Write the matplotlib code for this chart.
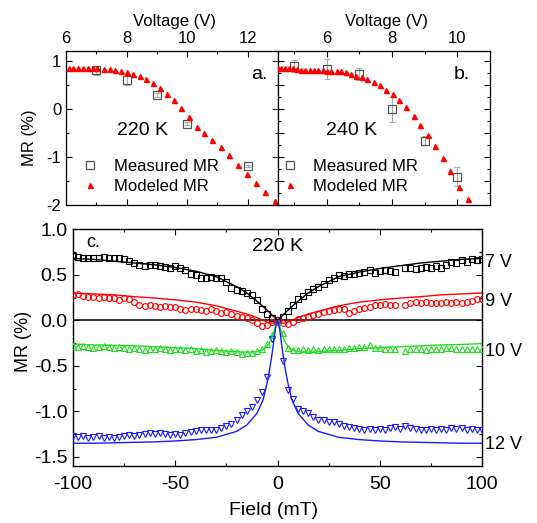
import numpy as np
import matplotlib
matplotlib.use("Agg")
import matplotlib.pyplot as plt
from matplotlib.ticker import MultipleLocator

plt.rcParams['font.family'] = ['Liberation Sans', 'DejaVu Sans']
plt.rcParams['axes.unicode_minus'] = False

# ---------------- Panel a (220 K) ----------------
volt_meas_a = [7, 8, 9, 10, 12]
mr_meas_a = [0.80, 0.60, 0.28, -0.31, -1.19]
err_meas_a = [0.09, 0.11, 0.04, 0.03, 0.03]

volt_model_a = [6.10, 6.24, 6.40, 6.56, 6.73, 6.88, 7.03, 7.26, 7.45, 7.63, 7.81,
                8.00, 8.22, 8.44, 8.65, 8.87, 9.09, 9.32, 9.56, 9.80, 10.05,
                10.31, 10.56, 10.82, 11.11, 11.38, 11.67, 11.96, 12.26, 12.58, 12.89]
mr_model_a = [0.85, 0.85, 0.85, 0.85, 0.85, 0.85, 0.84, 0.83, 0.82, 0.80, 0.79,
              0.77, 0.73, 0.69, 0.61, 0.53, 0.44, 0.30, 0.18, 0.02, -0.17,
              -0.37, -0.50, -0.65, -0.80, -0.97, -1.16, -1.35, -1.55, -1.74, -1.92]

# ---------------- Panel b (240 K) ----------------
volt_meas_b = [5, 6, 7, 8, 9, 10]
mr_meas_b = [0.89, 0.82, 0.72, -0.01, -0.66, -1.41]
err_meas_b = [0.13, 0.21, 0.12, 0.26, 0.09, 0.20]

volt_model_b = [4.52, 4.62, 4.73, 4.85, 4.96, 5.09, 5.22, 5.35, 5.49, 5.62, 5.75,
                5.89, 6.02, 6.15, 6.31, 6.44, 6.59, 6.74, 6.89, 7.07, 7.25, 7.44,
                7.62, 7.83, 8.03, 8.23, 8.44, 8.66, 8.87, 9.10, 9.32, 9.57, 9.79,
                10.06, 10.33]
mr_model_b = [0.85, 0.85, 0.85, 0.85, 0.85, 0.82, 0.81, 0.81, 0.81, 0.81, 0.81,
              0.81, 0.79, 0.79, 0.78, 0.78, 0.76, 0.72, 0.69, 0.66, 0.61, 0.56,
              0.49, 0.40, 0.30, 0.18, 0.03, -0.15, -0.34, -0.55, -0.78, -1.03,
              -1.29, -1.63, -1.88]

# ---------------- Panel c (220 K field sweeps) ----------------
field = np.linspace(-100, 100, 81)
nan = np.nan
mr_7V = [0.71, 0.70, 0.69, 0.68, 0.69, 0.68, 0.70, 0.69, 0.68, 0.68, 0.67, 0.65,
         0.63, 0.61, 0.60, 0.61, 0.61, 0.60, 0.59, 0.58, 0.60, 0.57, 0.55, 0.51,
         0.50, 0.47, 0.47, 0.48, 0.46, 0.46, 0.42, 0.36, 0.33, 0.32, 0.30, 0.28,
         0.22, 0.12, 0.07, 0.03, 0.00,
         0.04, 0.10, 0.17, 0.23, 0.27, 0.31, 0.34, 0.37, 0.40, 0.44, 0.47, 0.50,
         0.49, 0.51, 0.51, 0.52, 0.53, 0.55, 0.52, 0.54, 0.55, 0.54, 0.53, nan,
         0.57, 0.58, 0.56, 0.58, 0.59, 0.58, 0.60, 0.58, 0.61, 0.64, 0.63, 0.66,
         0.64, 0.67, 0.66, 0.67]
mr_9V = [0.28, 0.29, 0.27, 0.26, 0.26, 0.25, 0.26, 0.25, 0.24, 0.22, 0.24, 0.23,
         0.20, 0.17, 0.16, 0.17, 0.16, 0.15, 0.16, 0.15, 0.15, 0.12, 0.11, 0.12,
         0.13, 0.11, 0.10, 0.12, 0.10, 0.08, 0.09, 0.07, 0.05, 0.04, 0.03, 0.00,
         -0.03, -0.06, -0.05, -0.02, 0.00,
         -0.03, -0.04, -0.02, 0.01, 0.03, 0.04, 0.06, 0.07, 0.09, 0.10, 0.11, 0.13,
         0.12, 0.08, 0.10, 0.13, 0.14, 0.15, 0.17, 0.17, 0.18, 0.17, 0.17, nan,
         0.17, 0.19, 0.20, 0.19, 0.20, 0.19, 0.19, 0.19, 0.20, 0.19, 0.20, 0.19,
         0.20, 0.21, 0.23, 0.23]
mr_10V = [-0.28, -0.29, -0.28, -0.29, -0.30, -0.29, -0.28, -0.29, -0.30, -0.29,
          -0.30, -0.31, -0.30, -0.31, -0.33, -0.31, -0.32, -0.30, -0.31, -0.33,
          -0.32, -0.31, -0.33, -0.32, -0.34, -0.33, -0.35, -0.34, -0.33, -0.34,
          -0.35, -0.34, -0.35, -0.37, -0.36, -0.36, -0.34, -0.31, -0.26, -0.16,
          -0.02,
          -0.14, -0.30, -0.33, -0.33, -0.32, -0.33, -0.32, -0.33, -0.31, -0.32,
          -0.31, -0.31, -0.32, -0.30, -0.30, -0.29, -0.29, -0.27, -0.30, -0.30,
          -0.31, -0.31, -0.31, nan, -0.34, -0.32, -0.32, -0.32, -0.33, -0.32,
          -0.31, -0.32, -0.30, -0.30, -0.31, -0.32, -0.31, -0.32, -0.31, -0.32]
mr_12V = [-1.27, -1.28, -1.27, -1.29, -1.28, -1.27, -1.29, -1.28, -1.29, -1.28,
          -1.27, -1.26, -1.27, -1.26, -1.25, -1.24, -1.25, -1.24, -1.25, -1.26,
          -1.25, -1.26, -1.24, -1.23, -1.22, -1.21, -1.20, -1.21, -1.20, -1.18,
          -1.16, -1.14, -1.10, -1.04, -1.00, -0.95, -0.87, -0.79, -0.62, -0.20,
          -0.02,
          -0.45, -0.77, -0.86, -0.97, -1.00, -1.02, -1.06, -1.09, -1.10, -1.12,
          -1.12, -1.14, -1.16, -1.17, -1.18, -1.19, -1.20, -1.19, -1.21, -1.19,
          -1.20, -1.18, -1.17, -1.19, -1.16, -1.18, -1.19, -1.20, -1.21, -1.19,
          -1.21, -1.19, -1.20, -1.18, -1.19, -1.18, -1.20, -1.19, -1.21, -1.20]

field_fit = [-100, -90, -80, -70, -60, -50, -40, -30, -20, -15, -10, -7, -5, -4,
             -3, -2, -1.5, -1, -0.5, 0, 0.5, 1, 1.5, 2, 3, 4, 5, 7, 10, 15, 20,
             30, 40, 50, 60, 70, 80, 90, 100]
fit_7V = [0.68, 0.67, 0.65, 0.63, 0.61, 0.58, 0.54, 0.48, 0.37, 0.30, 0.21, 0.15,
          0.11, 0.09, 0.065, 0.045, 0.033, 0.022, 0.011, 0.0, 0.011, 0.022, 0.033,
          0.045, 0.065, 0.09, 0.11, 0.15, 0.21, 0.30, 0.37, 0.48, 0.53, 0.57,
          0.60, 0.63, 0.65, 0.67, 0.68]
fit_9V = [0.30, 0.29, 0.28, 0.26, 0.245, 0.225, 0.20, 0.16, 0.10, 0.07, 0.03, 0.0,
          -0.02, -0.03, -0.03, -0.03, -0.025, -0.02, -0.01, 0.0, -0.01, -0.02,
          -0.025, -0.03, -0.03, -0.03, -0.02, 0.0, 0.03, 0.07, 0.10, 0.16, 0.20,
          0.225, 0.245, 0.26, 0.28, 0.29, 0.30]
fit_10V = [-0.26, -0.27, -0.275, -0.28, -0.29, -0.30, -0.31, -0.33, -0.345, -0.35,
           -0.345, -0.32, -0.28, -0.25, -0.20, -0.14, -0.10, -0.06, -0.02, 0.0,
           -0.02, -0.06, -0.10, -0.14, -0.20, -0.25, -0.28, -0.32, -0.345, -0.35,
           -0.345, -0.33, -0.31, -0.30, -0.29, -0.28, -0.27, -0.265, -0.255]
fit_12V = [-1.35, -1.35, -1.345, -1.34, -1.335, -1.325, -1.31, -1.285, -1.22,
           -1.15, -1.02, -0.87, -0.68, -0.56, -0.42, -0.26, -0.17, -0.09, -0.03,
           0.0, -0.03, -0.09, -0.17, -0.26, -0.42, -0.56, -0.68, -0.87, -1.02,
           -1.15, -1.22, -1.285, -1.31, -1.325, -1.335, -1.34, -1.345, -1.35, -1.35]

series_labels = ['7 V', '9 V', '10 V', '12 V']

# ---------------- Figure ----------------
W, H = 537, 523
fig = plt.figure(figsize=(W / 100, H / 100), dpi=100)

def fx(px):
    return px / W

def fy(py):
    return 1 - py / H

ax_a = fig.add_axes([fx(66), fy(205), fx(278) - fx(66), fy(51) - fy(205)])
ax_b = fig.add_axes([fx(277.5), fy(205), fx(490) - fx(277.5), fy(51) - fy(205)])
ax_c = fig.add_axes([fx(73), fy(466), fx(482) - fx(73), fy(229.3) - fy(466)])

grey = '#555555'
ebar_c = '#aaaaaa'


def style_volt_axis(ax):
    ax.xaxis.tick_top()
    ax.xaxis.set_label_position('top')
    ax.tick_params(which='both', direction='in', top=True, bottom=True,
                   left=True, right=True, labelsize=12, pad=3.5)
    ax.tick_params(which='major', length=4, width=0.8)
    ax.tick_params(which='minor', length=2.5, width=0.8)
    for s in ax.spines.values():
        s.set_linewidth(0.9)


for ax, vm, mm, em, vmod, mmod, txt, tag, xl, xmaj, tx, tagx, legx in [
        (ax_a, volt_meas_a, mr_meas_a, err_meas_a, volt_model_a, mr_model_a,
         '220 K', 'a.', (6, 13), [6, 8, 10, 12], 0.363, 0.95, 0.075),
        (ax_b, volt_meas_b, mr_meas_b, err_meas_b, volt_model_b, mr_model_b,
         '240 K', 'b.', (4.5, 11), [6, 8, 10], 0.349, 0.905, 0.02)]:
    ax.errorbar(vm, mm, yerr=em, fmt='none', ecolor=ebar_c, elinewidth=0.8,
                capsize=2, capthick=0.8, zorder=2)
    hm, = ax.plot(vm, mm, ls='none', marker='s', ms=6, mfc='none',
                  mec=grey, mew=0.9, zorder=3)
    hr, = ax.plot(vmod, mmod, ls='none', marker='^', ms=3.6, color='red',
                  mec='red', zorder=4)
    ax.set_xlim(*xl)
    ax.set_ylim(-2, 1.2)
    ax.set_xticks(xmaj)
    ax.xaxis.set_minor_locator(MultipleLocator(1))
    style_volt_axis(ax)
    ax.set_xlabel('Voltage (V)', fontsize=12)
    ax.text(tx, 0.482, txt, transform=ax.transAxes,
            fontsize=14, ha='center', va='center')
    ax.text(tagx, 0.845, tag, transform=ax.transAxes,
            fontsize=14, ha='right', va='center')
    ax.legend([hm, hr], ['Measured MR', 'Modeled MR'], loc='upper left',
              bbox_to_anchor=(legx, 0.30),
              frameon=False, fontsize=12, handlelength=1.0,
              handletextpad=0.9, labelspacing=0.32, borderpad=0,
              borderaxespad=0, markerscale=1.0)

ax_a.set_yticks([-2, -1, 0, 1])
ax_a.yaxis.set_minor_locator(MultipleLocator(0.5))
ax_a.set_ylabel('MR (%)', fontsize=12)
ax_a.xaxis.set_label_coords(0.51, 1.16)
ax_b.xaxis.set_label_coords(0.515, 1.16)
ax_a.yaxis.set_label_coords(-0.135, 0.44)
ax_a.tick_params(axis='y', labelright=False)

ax_b.yaxis.set_major_locator(MultipleLocator(0.5))
ax_b.yaxis.set_minor_locator(MultipleLocator(0.25))
ax_b.tick_params(axis='y', labelleft=False, labelright=False)

# ---------------- Panel c ----------------
colors = ['black', 'red', '#22dd22', '#1a1aff']
markers = ['s', 'o', '^', 'v']
data_c = [mr_7V, mr_9V, mr_10V, mr_12V]
fits_c = [fit_7V, fit_9V, fit_10V, fit_12V]
label_y = [0.64, 0.21, -0.34, -1.36]

ax_c.axhline(0, color='black', lw=1.1, zorder=1)
for d, f, c, m, lab, ly in zip(data_c, fits_c, colors, markers, series_labels, label_y):
    ax_c.plot(field, d, ls='none', marker=m, ms=4.2, mfc='none', mec=c,
              mew=0.8, zorder=3)
    ax_c.plot(field_fit, f, color=c, lw=1.0, zorder=4)
    ax_c.text(101.5, ly, lab, fontsize=13, ha='left', va='center')

ax_c.set_xlim(-100, 100)
ax_c.set_ylim(-1.6, 1.0)
ax_c.set_xticks([-100, -50, 0, 50, 100])
ax_c.xaxis.set_minor_locator(MultipleLocator(25))
ax_c.set_yticks([-1.5, -1.0, -0.5, 0.0, 0.5, 1.0])
ax_c.yaxis.set_minor_locator(MultipleLocator(0.25))
ax_c.yaxis.set_major_formatter(matplotlib.ticker.FormatStrFormatter('%.1f'))
ax_c.tick_params(which='both', direction='in', top=True, right=True,
                 labelsize=14)
ax_c.tick_params(axis='x', pad=7)
ax_c.tick_params(axis='y', pad=4)
ax_c.tick_params(which='major', length=4.5, width=0.8)
ax_c.tick_params(which='minor', length=2.5, width=0.8)
for s in ax_c.spines.values():
    s.set_linewidth(1.0)
ax_c.set_xlabel('Field (mT)', fontsize=14)
ax_c.set_ylabel('MR (%)', fontsize=13)
ax_c.xaxis.set_label_coords(0.49, -0.15)
ax_c.yaxis.set_label_coords(-0.10, 0.525)
ax_c.text(0.0, 0.81, '220 K', fontsize=14, ha='center', va='center')
ax_c.text(-93.5, 0.86, 'c.', fontsize=13, ha='left', va='center')

fig.savefig('out.png', dpi=100)
